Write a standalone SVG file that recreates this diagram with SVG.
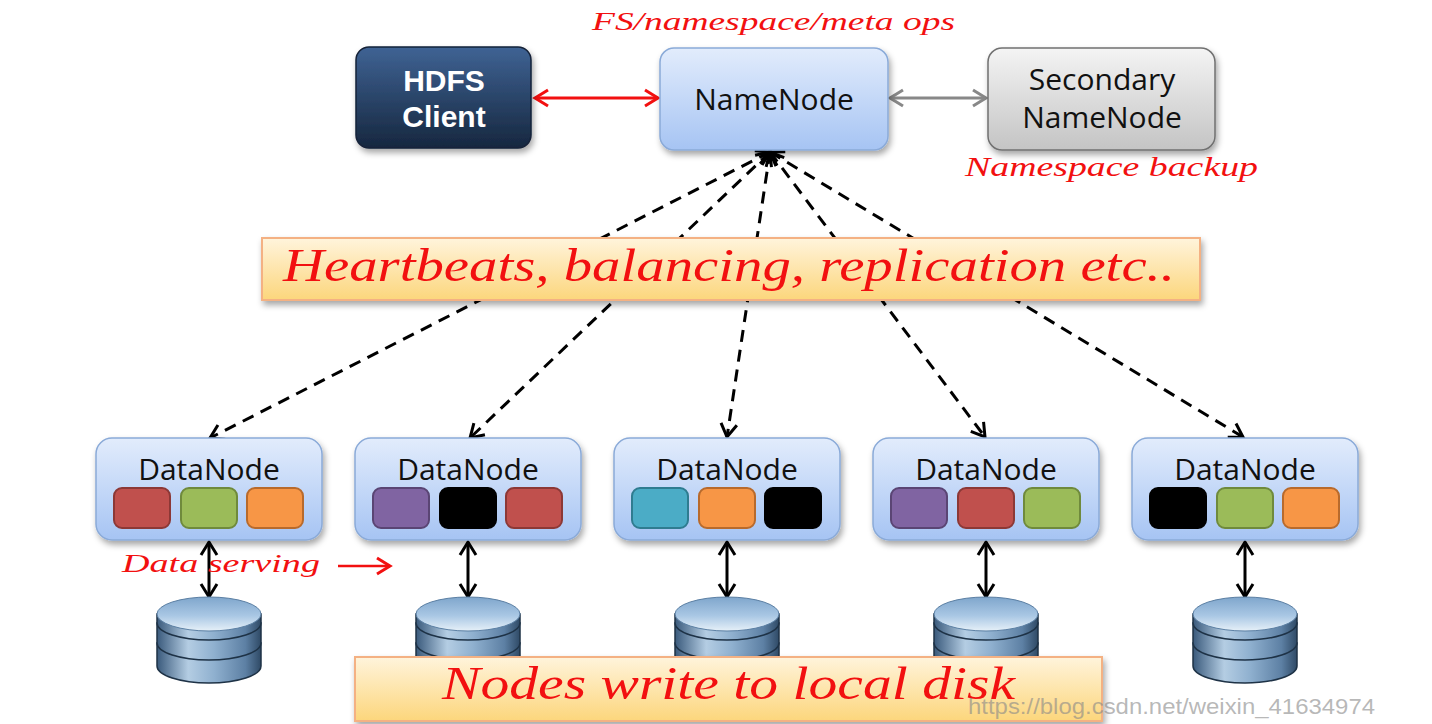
<svg xmlns="http://www.w3.org/2000/svg" width="1432" height="724" viewBox="0 0 1432 724">
<style>
.script{font-family:"Liberation Serif","DejaVu Serif",serif;font-style:italic;fill:#f21010}
.label{font-family:"Open Sans","Noto Sans",sans-serif;font-size:30px;fill:#111;text-anchor:middle}
.dn{fill:url(#gBlue);stroke:#8aaad8;stroke-width:1.5}
.blk{stroke-width:2}
.dash{fill:none;stroke:#000;stroke-width:3;stroke-dasharray:12 8;marker-start:url(#aBlk);marker-end:url(#aBlk)}
.solid{fill:none;stroke:#000;stroke-width:3;marker-start:url(#aBlk);marker-end:url(#aBlk)}
.banner{fill:url(#gBan);stroke:#f4b183;stroke-width:2}
.band{fill:url(#gSide);stroke:#1e3246;stroke-width:1.5}
</style>
<defs>
<linearGradient id="gBlue" x1="0" y1="0" x2="0" y2="1"><stop offset="0" stop-color="#e2ecfc"/><stop offset="1" stop-color="#a6c4f3"/></linearGradient>
<linearGradient id="gNavy" x1="0" y1="0" x2="0" y2="1"><stop offset="0" stop-color="#3f6394"/><stop offset="1" stop-color="#16273f"/></linearGradient>
<linearGradient id="gGray" x1="0" y1="0" x2="0" y2="1"><stop offset="0" stop-color="#f4f4f4"/><stop offset="1" stop-color="#c4c4c4"/></linearGradient>
<linearGradient id="gBan" x1="0" y1="0" x2="0" y2="1"><stop offset="0" stop-color="#fff4dc"/><stop offset="1" stop-color="#fcd67c"/></linearGradient>
<linearGradient id="gSide" x1="0" y1="0" x2="1" y2="0"><stop offset="0" stop-color="#3a5a7c"/><stop offset="0.3" stop-color="#b4cde3"/><stop offset="0.55" stop-color="#8fb0cf"/><stop offset="0.85" stop-color="#5d80a4"/><stop offset="1" stop-color="#2f4a66"/></linearGradient>
<linearGradient id="gTop" x1="0" y1="0" x2="0" y2="1"><stop offset="0" stop-color="#7fa6cc"/><stop offset="0.55" stop-color="#a9c7e4"/><stop offset="1" stop-color="#e6f0f8"/></linearGradient>
<filter id="sh" x="-10%" y="-10%" width="125%" height="135%"><feDropShadow dx="2" dy="4" stdDeviation="3" flood-color="#000" flood-opacity="0.35"/></filter>
<marker id="aBlk" markerUnits="userSpaceOnUse" markerWidth="22" markerHeight="22" viewBox="0 0 22 22" refX="19" refY="11" orient="auto-start-reverse"><path d="M6,3 L19,11 L6,19" fill="none" stroke="#000" stroke-width="3" stroke-dasharray="none"/></marker>
<marker id="aRed" markerUnits="userSpaceOnUse" markerWidth="22" markerHeight="22" viewBox="0 0 22 22" refX="19" refY="11" orient="auto-start-reverse"><path d="M6,3 L19,11 L6,19" fill="none" stroke="#f21010" stroke-width="3"/></marker>
<marker id="aGray" markerUnits="userSpaceOnUse" markerWidth="22" markerHeight="22" viewBox="0 0 22 22" refX="19" refY="11" orient="auto-start-reverse"><path d="M6,3 L19,11 L6,19" fill="none" stroke="#888" stroke-width="3"/></marker>
<g id="disk">
<path class="band" d="M-52,29 L-52,52 A52,17 0 0 0 52,52 L52,29 Z"/>
<path class="band" d="M-52,9 L-52,29 A52,17 0 0 0 52,29 L52,9 Z"/>
<path class="band" d="M-52,0 L-52,9 A52,17 0 0 0 52,9 L52,0 Z"/>
<ellipse cx="0" cy="0" rx="52" ry="17" fill="url(#gTop)" stroke="#5b7fa3" stroke-width="1"/>
</g>
</defs>
<rect width="1432" height="724" fill="#fff"/>

<g id="connectors">
<line x1="535" y1="98" x2="658" y2="98" stroke="#f21010" stroke-width="3" marker-start="url(#aRed)" marker-end="url(#aRed)"/>
<line x1="890" y1="98" x2="986" y2="98" stroke="#888" stroke-width="3" marker-start="url(#aGray)" marker-end="url(#aGray)"/>
<line class="dash" x1="770" y1="152" x2="210" y2="438"/>
<line class="dash" x1="770" y1="152" x2="470" y2="438"/>
<line class="dash" x1="770" y1="152" x2="727" y2="437"/>
<line class="dash" x1="770" y1="152" x2="985" y2="437"/>
<line class="dash" x1="770" y1="152" x2="1243" y2="437"/>
<line class="solid" x1="209" y1="542" x2="209" y2="597"/>
<line class="solid" x1="468" y1="542" x2="468" y2="597"/>
<line class="solid" x1="727" y1="542" x2="727" y2="597"/>
<line class="solid" x1="986" y1="542" x2="986" y2="597"/>
<line class="solid" x1="1245" y1="542" x2="1245" y2="597"/>
<line x1="338" y1="566" x2="390" y2="566" stroke="#f21010" stroke-width="2.5" marker-end="url(#aRed)"/>
</g>

<g id="hdfs-client">
<rect x="356" y="47" width="175" height="101" rx="13" fill="url(#gNavy)" stroke="#142238" stroke-width="1.5" filter="url(#sh)"/>
<text x="444" y="91" font-family="Liberation Sans,Arial,sans-serif" font-weight="bold" font-size="30" fill="#fff" text-anchor="middle">HDFS</text>
<text x="444" y="127" font-family="Liberation Sans,Arial,sans-serif" font-weight="bold" font-size="30" fill="#fff" text-anchor="middle">Client</text>
</g>

<g id="namenode">
<rect x="660" y="48" width="228" height="102" rx="14" fill="url(#gBlue)" stroke="#8aaad8" stroke-width="1.5" filter="url(#sh)"/>
<text class="label" x="774" y="110">NameNode</text>
</g>

<g id="secondary-namenode">
<rect x="988" y="48" width="227" height="102" rx="14" fill="url(#gGray)" stroke="#707070" stroke-width="1.5" filter="url(#sh)"/>
<text class="label" x="1102" y="90">Secondary</text>
<text class="label" x="1102" y="128">NameNode</text>
</g>

<text class="script" x="592" y="30" font-size="26" textLength="363" lengthAdjust="spacingAndGlyphs">FS/namespace/meta ops</text>
<text class="script" x="965" y="176" font-size="28" textLength="293" lengthAdjust="spacingAndGlyphs">Namespace backup</text>

<g id="heartbeat-banner">
<rect class="banner" x="262" y="238" width="938" height="62" filter="url(#sh)"/>
<text class="script" x="283" y="281" font-size="46" textLength="892" lengthAdjust="spacingAndGlyphs">Heartbeats, balancing, replication etc..</text>
</g>

<g id="datanode-1">
<rect class="dn" x="96" y="438" width="226" height="102" rx="16" filter="url(#sh)"/>
<text class="label" x="209" y="480">DataNode</text>
<rect class="blk" x="114" y="488" width="56" height="40" rx="8" fill="#c0504d" stroke="#8c3836"/>
<rect class="blk" x="181" y="488" width="56" height="40" rx="8" fill="#9bbb59" stroke="#6f8a3c"/>
<rect class="blk" x="247" y="488" width="56" height="40" rx="8" fill="#f79646" stroke="#b86a2c"/>
</g>
<g id="datanode-2">
<rect class="dn" x="355" y="438" width="226" height="102" rx="16" filter="url(#sh)"/>
<text class="label" x="468" y="480">DataNode</text>
<rect class="blk" x="373" y="488" width="56" height="40" rx="8" fill="#8064a2" stroke="#5a4574"/>
<rect class="blk" x="440" y="488" width="56" height="40" rx="8" fill="#000" stroke="#000"/>
<rect class="blk" x="506" y="488" width="56" height="40" rx="8" fill="#c0504d" stroke="#8c3836"/>
</g>
<g id="datanode-3">
<rect class="dn" x="614" y="438" width="226" height="102" rx="16" filter="url(#sh)"/>
<text class="label" x="727" y="480">DataNode</text>
<rect class="blk" x="632" y="488" width="56" height="40" rx="8" fill="#4bacc6" stroke="#2f7c90"/>
<rect class="blk" x="699" y="488" width="56" height="40" rx="8" fill="#f79646" stroke="#b86a2c"/>
<rect class="blk" x="765" y="488" width="56" height="40" rx="8" fill="#000" stroke="#000"/>
</g>
<g id="datanode-4">
<rect class="dn" x="873" y="438" width="226" height="102" rx="16" filter="url(#sh)"/>
<text class="label" x="986" y="480">DataNode</text>
<rect class="blk" x="891" y="488" width="56" height="40" rx="8" fill="#8064a2" stroke="#5a4574"/>
<rect class="blk" x="958" y="488" width="56" height="40" rx="8" fill="#c0504d" stroke="#8c3836"/>
<rect class="blk" x="1024" y="488" width="56" height="40" rx="8" fill="#9bbb59" stroke="#6f8a3c"/>
</g>
<g id="datanode-5">
<rect class="dn" x="1132" y="438" width="226" height="102" rx="16" filter="url(#sh)"/>
<text class="label" x="1245" y="480">DataNode</text>
<rect class="blk" x="1150" y="488" width="56" height="40" rx="8" fill="#000" stroke="#000"/>
<rect class="blk" x="1217" y="488" width="56" height="40" rx="8" fill="#9bbb59" stroke="#6f8a3c"/>
<rect class="blk" x="1283" y="488" width="56" height="40" rx="8" fill="#f79646" stroke="#b86a2c"/>
</g>

<text class="script" x="122" y="572" font-size="26" textLength="198" lengthAdjust="spacingAndGlyphs">Data serving</text>

<g id="disks">
<use href="#disk" x="209" y="614"/>
<use href="#disk" x="468" y="614"/>
<use href="#disk" x="727" y="614"/>
<use href="#disk" x="986" y="614"/>
<use href="#disk" x="1245" y="614"/>
</g>

<g id="disk-banner">
<rect class="banner" x="355" y="657" width="747" height="64" filter="url(#sh)"/>
<text class="script" x="442" y="699" font-size="46" textLength="573" lengthAdjust="spacingAndGlyphs">Nodes write to local disk</text>
</g>

<text x="968" y="714" font-family="Liberation Sans,Arial,sans-serif" font-size="22" fill="#888" fill-opacity="0.6" textLength="407" lengthAdjust="spacingAndGlyphs">https://blog.csdn.net/weixin_41634974</text>
</svg>
